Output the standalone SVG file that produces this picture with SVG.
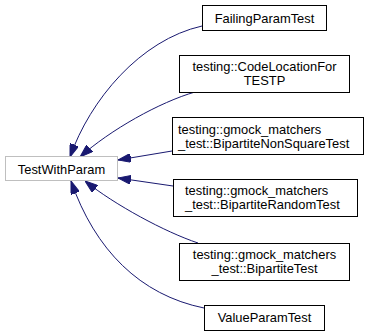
<svg xmlns="http://www.w3.org/2000/svg" width="369" height="336" viewBox="0 0 369 336">
  <style>
    .node rect { fill: #ffffff; stroke: #000000; stroke-width: 1; }
    .node.base rect { stroke: #bfbfbf; }
    .node text { font-family: "Liberation Sans", Helvetica, Arial, sans-serif; font-size: 12.9px; fill: #000000; }
    .c { text-anchor: middle; }
    .edge { fill: none; stroke: #191970; stroke-width: 1; marker-end: url(#head); }
  </style>
  <defs>
    <marker id="head" viewBox="0 0 13 9" refX="13" refY="4.5" markerWidth="13" markerHeight="9" markerUnits="userSpaceOnUse" orient="auto">
      <path d="M0,0 L13,4.5 L0,9 z" fill="#191970" stroke="#191970" stroke-width="1"/>
    </marker>
  </defs>

  <!-- inheritance edges, pointing at the base class -->
  <g id="edges">
    <path class="edge" d="M202,26 C140,40 90,100 70,157"/>
    <path class="edge" d="M195,92 C160,102 110,130 80,157"/>
    <path class="edge" d="M172,151 L118,160"/>
    <path class="edge" d="M173,186 L118,178"/>
    <path class="edge" d="M198,243 C165,232 115,205 85,181"/>
    <path class="edge" d="M204,308 C140,295 95,250 71,181"/>
  </g>

  <g id="TestWithParam" class="node base">
    <rect x="5.5" y="156.5" width="112" height="24"/>
    <text class="c" x="61.5" y="173.5">TestWithParam</text>
  </g>

  <g id="FailingParamTest" class="node">
    <rect x="202.5" y="5.5" width="124" height="25"/>
    <text class="c" x="264.5" y="22.5">FailingParamTest</text>
  </g>

  <g id="CodeLocationForTESTP" class="node">
    <rect x="179.5" y="55.5" width="170" height="37"/>
    <text class="c" x="264.5" y="71">testing::CodeLocationFor<tspan x="264.5" dy="14.4">TESTP</tspan></text>
  </g>

  <g id="BipartiteNonSquareTest" class="node">
    <rect x="172.5" y="117.5" width="191" height="37"/>
    <text x="178" y="133.5">testing::gmock_matchers<tspan x="178" dy="14.4">_test::BipartiteNonSquareTest</tspan></text>
  </g>

  <g id="BipartiteRandomTest" class="node">
    <rect x="173.5" y="179.5" width="184" height="37"/>
    <text x="185" y="195">testing::gmock_matchers<tspan x="185" dy="14.4">_test::BipartiteRandomTest</tspan></text>
  </g>

  <g id="BipartiteTest" class="node">
    <rect x="179.5" y="243.5" width="170" height="37"/>
    <text class="c" x="264.5" y="259">testing::gmock_matchers<tspan x="264.5" dy="14.4">_test::BipartiteTest</tspan></text>
  </g>

  <g id="ValueParamTest" class="node">
    <rect x="204.5" y="305.5" width="120" height="25"/>
    <text class="c" x="264.5" y="322">ValueParamTest</text>
  </g>
</svg>
